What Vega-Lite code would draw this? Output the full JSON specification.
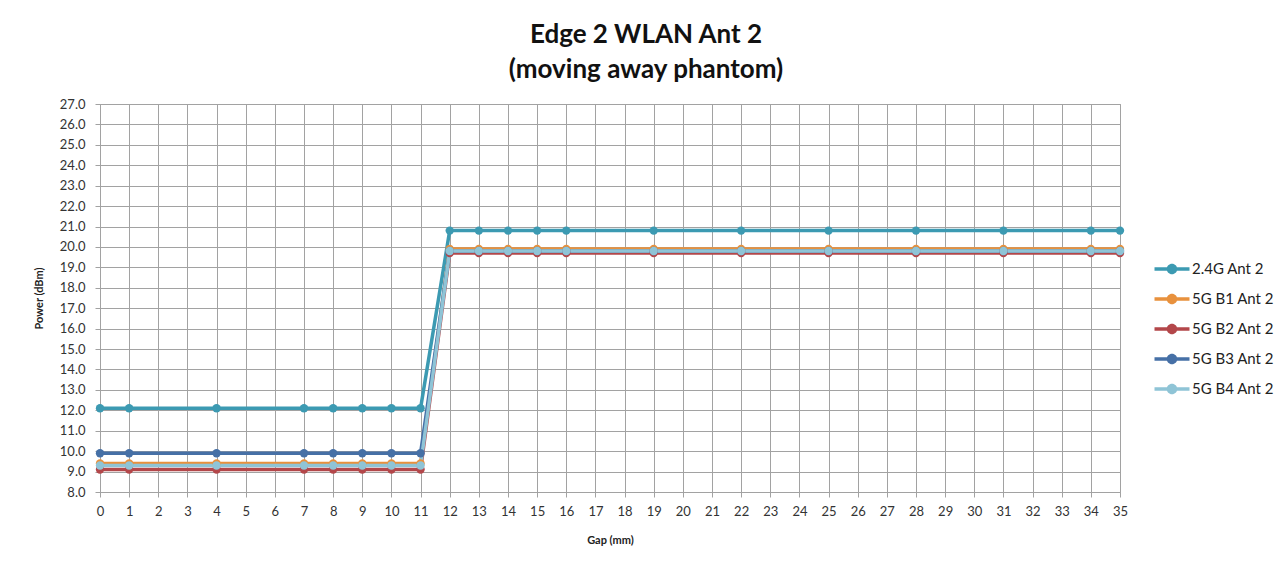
{
  "$schema": "https://vega.github.io/schema/vega-lite/v6.json",
  "width": 1020,
  "height": 388,
  "autosize": "none",
  "padding": {"left": 100, "top": 104, "right": 167, "bottom": 76},
  "background": "white",
  "title": {
    "text": ["Edge 2 WLAN Ant 2", "(moving away phantom)"],
    "font": "Lato",
    "fontSize": 26,
    "fontWeight": "bold",
    "color": "#111111",
    "lineHeight": 35,
    "anchor": "middle",
    "frame": "group",
    "dx": 36,
    "offset": 15
  },
  "data": {
    "values": [
      {"series": "2.4G Ant 2", "gap": 0, "power": 12.1},
      {"series": "2.4G Ant 2", "gap": 1, "power": 12.1},
      {"series": "2.4G Ant 2", "gap": 4, "power": 12.1},
      {"series": "2.4G Ant 2", "gap": 7, "power": 12.1},
      {"series": "2.4G Ant 2", "gap": 8, "power": 12.1},
      {"series": "2.4G Ant 2", "gap": 9, "power": 12.1},
      {"series": "2.4G Ant 2", "gap": 10, "power": 12.1},
      {"series": "2.4G Ant 2", "gap": 11, "power": 12.1},
      {"series": "2.4G Ant 2", "gap": 12, "power": 20.8},
      {"series": "2.4G Ant 2", "gap": 13, "power": 20.8},
      {"series": "2.4G Ant 2", "gap": 14, "power": 20.8},
      {"series": "2.4G Ant 2", "gap": 15, "power": 20.8},
      {"series": "2.4G Ant 2", "gap": 16, "power": 20.8},
      {"series": "2.4G Ant 2", "gap": 19, "power": 20.8},
      {"series": "2.4G Ant 2", "gap": 22, "power": 20.8},
      {"series": "2.4G Ant 2", "gap": 25, "power": 20.8},
      {"series": "2.4G Ant 2", "gap": 28, "power": 20.8},
      {"series": "2.4G Ant 2", "gap": 31, "power": 20.8},
      {"series": "2.4G Ant 2", "gap": 34, "power": 20.8},
      {"series": "2.4G Ant 2", "gap": 35, "power": 20.8},
      {"series": "5G B1 Ant 2", "gap": 0, "power": 9.4},
      {"series": "5G B1 Ant 2", "gap": 1, "power": 9.4},
      {"series": "5G B1 Ant 2", "gap": 4, "power": 9.4},
      {"series": "5G B1 Ant 2", "gap": 7, "power": 9.4},
      {"series": "5G B1 Ant 2", "gap": 8, "power": 9.4},
      {"series": "5G B1 Ant 2", "gap": 9, "power": 9.4},
      {"series": "5G B1 Ant 2", "gap": 10, "power": 9.4},
      {"series": "5G B1 Ant 2", "gap": 11, "power": 9.4},
      {"series": "5G B1 Ant 2", "gap": 12, "power": 19.9},
      {"series": "5G B1 Ant 2", "gap": 13, "power": 19.9},
      {"series": "5G B1 Ant 2", "gap": 14, "power": 19.9},
      {"series": "5G B1 Ant 2", "gap": 15, "power": 19.9},
      {"series": "5G B1 Ant 2", "gap": 16, "power": 19.9},
      {"series": "5G B1 Ant 2", "gap": 19, "power": 19.9},
      {"series": "5G B1 Ant 2", "gap": 22, "power": 19.9},
      {"series": "5G B1 Ant 2", "gap": 25, "power": 19.9},
      {"series": "5G B1 Ant 2", "gap": 28, "power": 19.9},
      {"series": "5G B1 Ant 2", "gap": 31, "power": 19.9},
      {"series": "5G B1 Ant 2", "gap": 34, "power": 19.9},
      {"series": "5G B1 Ant 2", "gap": 35, "power": 19.9},
      {"series": "5G B2 Ant 2", "gap": 0, "power": 9.1},
      {"series": "5G B2 Ant 2", "gap": 1, "power": 9.1},
      {"series": "5G B2 Ant 2", "gap": 4, "power": 9.1},
      {"series": "5G B2 Ant 2", "gap": 7, "power": 9.1},
      {"series": "5G B2 Ant 2", "gap": 8, "power": 9.1},
      {"series": "5G B2 Ant 2", "gap": 9, "power": 9.1},
      {"series": "5G B2 Ant 2", "gap": 10, "power": 9.1},
      {"series": "5G B2 Ant 2", "gap": 11, "power": 9.1},
      {"series": "5G B2 Ant 2", "gap": 12, "power": 19.7},
      {"series": "5G B2 Ant 2", "gap": 13, "power": 19.7},
      {"series": "5G B2 Ant 2", "gap": 14, "power": 19.7},
      {"series": "5G B2 Ant 2", "gap": 15, "power": 19.7},
      {"series": "5G B2 Ant 2", "gap": 16, "power": 19.7},
      {"series": "5G B2 Ant 2", "gap": 19, "power": 19.7},
      {"series": "5G B2 Ant 2", "gap": 22, "power": 19.7},
      {"series": "5G B2 Ant 2", "gap": 25, "power": 19.7},
      {"series": "5G B2 Ant 2", "gap": 28, "power": 19.7},
      {"series": "5G B2 Ant 2", "gap": 31, "power": 19.7},
      {"series": "5G B2 Ant 2", "gap": 34, "power": 19.7},
      {"series": "5G B2 Ant 2", "gap": 35, "power": 19.7},
      {"series": "5G B3 Ant 2", "gap": 0, "power": 9.9},
      {"series": "5G B3 Ant 2", "gap": 1, "power": 9.9},
      {"series": "5G B3 Ant 2", "gap": 4, "power": 9.9},
      {"series": "5G B3 Ant 2", "gap": 7, "power": 9.9},
      {"series": "5G B3 Ant 2", "gap": 8, "power": 9.9},
      {"series": "5G B3 Ant 2", "gap": 9, "power": 9.9},
      {"series": "5G B3 Ant 2", "gap": 10, "power": 9.9},
      {"series": "5G B3 Ant 2", "gap": 11, "power": 9.9},
      {"series": "5G B3 Ant 2", "gap": 12, "power": 19.8},
      {"series": "5G B3 Ant 2", "gap": 13, "power": 19.8},
      {"series": "5G B3 Ant 2", "gap": 14, "power": 19.8},
      {"series": "5G B3 Ant 2", "gap": 15, "power": 19.8},
      {"series": "5G B3 Ant 2", "gap": 16, "power": 19.8},
      {"series": "5G B3 Ant 2", "gap": 19, "power": 19.8},
      {"series": "5G B3 Ant 2", "gap": 22, "power": 19.8},
      {"series": "5G B3 Ant 2", "gap": 25, "power": 19.8},
      {"series": "5G B3 Ant 2", "gap": 28, "power": 19.8},
      {"series": "5G B3 Ant 2", "gap": 31, "power": 19.8},
      {"series": "5G B3 Ant 2", "gap": 34, "power": 19.8},
      {"series": "5G B3 Ant 2", "gap": 35, "power": 19.8},
      {"series": "5G B4 Ant 2", "gap": 0, "power": 9.3},
      {"series": "5G B4 Ant 2", "gap": 1, "power": 9.3},
      {"series": "5G B4 Ant 2", "gap": 4, "power": 9.3},
      {"series": "5G B4 Ant 2", "gap": 7, "power": 9.3},
      {"series": "5G B4 Ant 2", "gap": 8, "power": 9.3},
      {"series": "5G B4 Ant 2", "gap": 9, "power": 9.3},
      {"series": "5G B4 Ant 2", "gap": 10, "power": 9.3},
      {"series": "5G B4 Ant 2", "gap": 11, "power": 9.3},
      {"series": "5G B4 Ant 2", "gap": 12, "power": 19.8},
      {"series": "5G B4 Ant 2", "gap": 13, "power": 19.8},
      {"series": "5G B4 Ant 2", "gap": 14, "power": 19.8},
      {"series": "5G B4 Ant 2", "gap": 15, "power": 19.8},
      {"series": "5G B4 Ant 2", "gap": 16, "power": 19.8},
      {"series": "5G B4 Ant 2", "gap": 19, "power": 19.8},
      {"series": "5G B4 Ant 2", "gap": 22, "power": 19.8},
      {"series": "5G B4 Ant 2", "gap": 25, "power": 19.8},
      {"series": "5G B4 Ant 2", "gap": 28, "power": 19.8},
      {"series": "5G B4 Ant 2", "gap": 31, "power": 19.8},
      {"series": "5G B4 Ant 2", "gap": 34, "power": 19.8},
      {"series": "5G B4 Ant 2", "gap": 35, "power": 19.8}
    ]
  },
  "encoding": {
    "x": {
      "field": "gap",
      "type": "quantitative",
      "scale": {"domain": [0, 35], "nice": false, "zero": false},
      "axis": {
        "title": "Gap (mm)",
        "values": [0,1,2,3,4,5,6,7,8,9,10,11,12,13,14,15,16,17,18,19,20,21,22,23,24,25,26,27,28,29,30,31,32,33,34,35],
        "format": "d",
        "labelFlush": false,
        "labelOverlap": false
      }
    },
    "y": {
      "field": "power",
      "type": "quantitative",
      "scale": {"domain": [8, 27], "nice": false, "zero": false},
      "axis": {
        "title": "Power (dBm)",
        "values": [8,9,10,11,12,13,14,15,16,17,18,19,20,21,22,23,24,25,26,27],
        "format": ".1f",
        "labelOverlap": false
      }
    },
    "color": {
      "field": "series",
      "type": "nominal",
      "scale": {
        "domain": ["2.4G Ant 2", "5G B1 Ant 2", "5G B2 Ant 2", "5G B3 Ant 2", "5G B4 Ant 2"],
        "range": ["#3C9AB2", "#E8913D", "#B3474A", "#4670A6", "#8FC4D6"]
      },
      "legend": {
        "title": null,
        "orient": "none",
        "legendX": 1063,
        "legendY": 156,
        "symbolType": "M-2,-0.2 L2,-0.2 L2,0.2 L-2,0.2 Z M0.6,0 A0.6,0.6 0 1,1 -0.6,0 A0.6,0.6 0 1,1 0.6,0 Z",
        "symbolSize": 306,
        "symbolOpacity": 1,
        "symbolStrokeWidth": 0,
        "labelFont": "Lato",
        "labelFontSize": 15,
        "labelColor": "#222222",
        "labelOffset": 11,
        "rowPadding": 13,
        "encode": {
          "symbols": {
            "update": {
              "fill": {"scale": "color", "field": "value"},
              "strokeWidth": {"value": 0},
              "opacity": {"value": 1}
            }
          }
        }
      }
    }
  },
  "layer": [
    {
      "mark": {"type": "line", "strokeWidth": 3.5}
    },
    {
      "mark": {"type": "point", "filled": true, "size": 70, "opacity": 1}
    }
  ],
  "config": {
    "view": {"stroke": "#a2a2a2"},
    "axis": {
      "labelFont": "Lato",
      "labelFontSize": 13,
      "labelColor": "#333333",
      "titleFont": "Lato",
      "titleFontSize": 11,
      "titleFontWeight": "bold",
      "titleColor": "#222222",
      "grid": true,
      "gridColor": "#a2a2a2",
      "gridOpacity": 1,
      "gridWidth": 1,
      "domainColor": "#a2a2a2",
      "tickColor": "#a2a2a2",
      "tickSize": 5
    },
    "axisX": {"labelPadding": 8, "titlePadding": 16},
    "axisY": {"labelPadding": 10, "titlePadding": 15}
  }
}
